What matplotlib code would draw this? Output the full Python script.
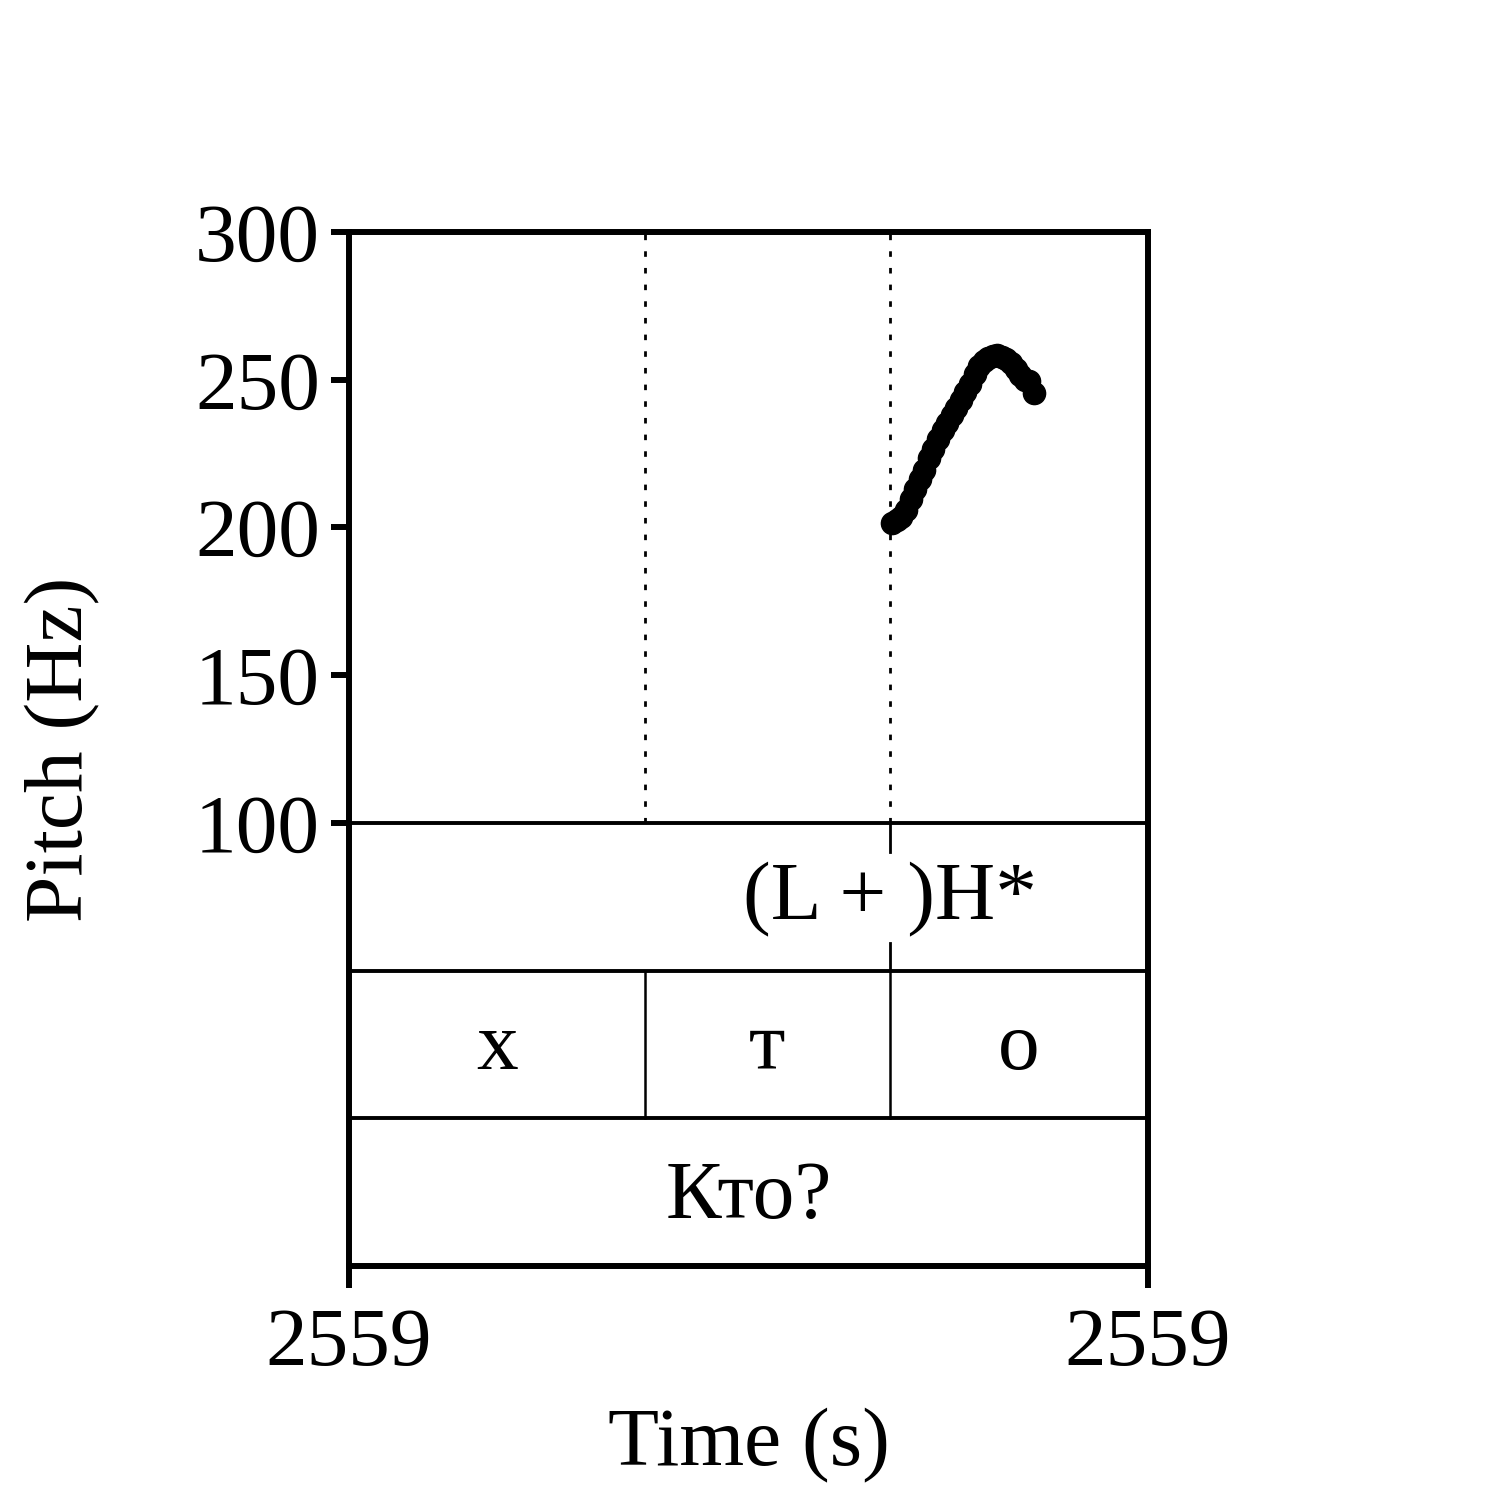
import matplotlib
matplotlib.use("Agg")
import matplotlib.pyplot as plt

plt.rcParams["font.family"] = ["Liberation Serif", "DejaVu Serif"]

# time window (s) and interval boundaries
t_start = 2559.050
t_end = 2559.400
boundaries = [2559.1795, 2559.2870]
tone_time = 2559.2870
tone_label = "(L + )H*"
segments = ["х", "т", "о"]
word = "Кто?"
xtick_labels = ["2559", "2559"]

# pitch track
pitch_t = [2559.288, 2559.290, 2559.292, 2559.294, 2559.296, 2559.298, 2559.300, 2559.302,
           2559.304, 2559.306, 2559.308, 2559.310, 2559.312, 2559.314, 2559.316, 2559.318,
           2559.320, 2559.322, 2559.324, 2559.326, 2559.328, 2559.330, 2559.332, 2559.334,
           2559.336, 2559.338, 2559.340, 2559.342, 2559.344, 2559.346, 2559.348, 2559.350]
pitch_hz = [201.4, 202.5, 203.5, 206.0, 209.5, 213.0, 216.5, 219.5,
            223.5, 226.5, 230.0, 233.0, 235.5, 238.0, 240.5, 243.0,
            246.0, 248.5, 252.0, 254.5, 256.5, 257.5, 258.0, 258.2,
            257.8, 257.0, 255.5, 253.5, 251.5, 250.0, 249.5, 245.5]

fig = plt.figure(figsize=(15, 15), dpi=100)
ax = fig.add_axes([349 / 1500, 1 - 1266 / 1500, (1148 - 349) / 1500, (1266 - 232) / 1500])

ax.set_xlim(t_start, t_end)
ax.set_ylim(-50, 300)

# pitch points
ax.plot(pitch_t, pitch_hz, "o", color="black", markersize=16, zorder=3)

# dotted boundaries in the pitch area
for b in boundaries:
    ax.plot([b, b], [100, 300], color="black", lw=2, linestyle=(0, (2, 4)), zorder=1)

# tier lines
for y in [100, 50, 0]:
    ax.axhline(y, color="black", lw=2.8)

# tone tier: point marks at top and bottom
ax.plot([tone_time, tone_time], [100, 90], color="black", lw=2)
ax.plot([tone_time, tone_time], [59.5, 50], color="black", lw=2)
ax.text(tone_time, 74, tone_label, ha="center", va="center", fontsize=60)

# segment tier
for b in boundaries:
    ax.plot([b, b], [50, 0], color="black", lw=1.8)
edges = [t_start] + boundaries + [t_end]
for i, s in enumerate(segments):
    ax.text((edges[i] + edges[i + 1]) / 2, 23.5, s, ha="center", va="center", fontsize=60)

# word tier
ax.text((t_start + t_end) / 2, -27, word, ha="center", va="center", fontsize=60)

for sp in ax.spines.values():
    sp.set_linewidth(4.3)

ax.set_yticks([100, 150, 200, 250, 300])
ax.set_xticks([t_start, t_end])
ax.set_xticklabels(xtick_labels)
ax.tick_params(axis="both", labelsize=60, width=4.3, length=13, pad=8)
ax.tick_params(axis="x", length=16, pad=14)

ax.set_ylabel("Pitch (Hz)", fontsize=60, labelpad=68)
ax.set_xlabel("Time (s)", fontsize=60, labelpad=18)

fig.savefig("out.png", dpi=100)
